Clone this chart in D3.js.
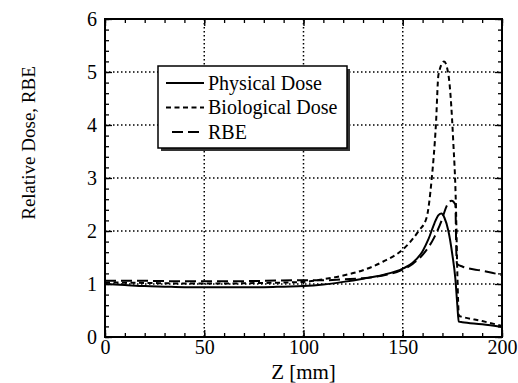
<!DOCTYPE html>
<html>
<head>
<meta charset="utf-8">
<script src="https://cdn.jsdelivr.net/npm/d3@7"></script>
<style>
  body { margin: 0; background: #fff; }
  svg text { font-family: "Liberation Serif", "Times New Roman", serif; fill: #000; }
</style>
</head>
<body>
<div id="chart"></div>
<script>
// data
var zPhys = [0, 10, 20, 30, 40, 50, 60, 70, 80, 90, 100, 110, 120, 130, 140, 150, 155, 160, 163, 166, 168, 169.5, 171, 173, 175, 176.5, 177.5, 178.2, 180, 190, 200];
var physical = [1.0, 0.98, 0.96, 0.95, 0.94, 0.94, 0.94, 0.94, 0.94, 0.95, 0.96, 0.99, 1.04, 1.10, 1.17, 1.29, 1.40, 1.62, 1.85, 2.15, 2.30, 2.33, 2.25, 2.0, 1.55, 1.1, 0.6, 0.29, 0.28, 0.24, 0.19];

var zBio = [0, 20, 40, 60, 80, 100, 110, 120, 130, 140, 150, 155, 158, 162, 164.5, 166.7, 168, 170.8, 173, 175.4, 176.8, 177.5, 178.3, 180, 190, 200];
var biological = [1.03, 1.02, 1.01, 1.01, 1.02, 1.04, 1.09, 1.16, 1.26, 1.42, 1.65, 1.85, 2.0, 2.25, 2.95, 4.0, 4.95, 5.2, 4.95, 3.72, 2.46, 1.2, 0.4, 0.38, 0.30, 0.21];

var zRbe = [0, 20, 40, 60, 80, 100, 110, 120, 130, 140, 150, 155, 160, 166, 169.6, 172, 174.6, 176.5, 177, 177.3, 180, 190, 200];
var rbe = [1.06, 1.06, 1.05, 1.05, 1.06, 1.07, 1.07, 1.09, 1.11, 1.16, 1.27, 1.38, 1.55, 1.89, 2.2, 2.46, 2.57, 2.5, 1.6, 1.38, 1.33, 1.25, 1.17];

var xTicks = [0, 50, 100, 150, 200];
var yTicks = [0, 1, 2, 3, 4, 5, 6];
var legendNames = ["Physical Dose", "Biological Dose", "RBE"];

var serif = "Liberation Serif, Times New Roman, serif";

var margin = {top: 19, right: 16, bottom: 46, left: 105},
    width = 518 - margin.left - margin.right,
    height = 383 - margin.top - margin.bottom;

var svg = d3.select("#chart")
  .append("svg")
    .attr("width", 518)
    .attr("height", 383)
  .append("g")
    .attr("transform", "translate(" + margin.left + "," + margin.top + ")");

var x = d3.scaleLinear().domain([0, 200]).range([0, width]);
var y = d3.scaleLinear().domain([0, 6]).range([height, 0]);

// dotted grid
svg.append("g").selectAll("line")
  .data(xTicks.slice(1, -1))
  .enter().append("line")
    .attr("x1", function(d) { return x(d); })
    .attr("x2", function(d) { return x(d); })
    .attr("y1", 0).attr("y2", height)
    .attr("stroke", "#000").attr("stroke-width", 1.5)
    .attr("stroke-dasharray", "1.5,2.5");

svg.append("g").selectAll("line")
  .data(yTicks.slice(1, -1))
  .enter().append("line")
    .attr("y1", function(d) { return y(d); })
    .attr("y2", function(d) { return y(d); })
    .attr("x1", 0).attr("x2", width)
    .attr("stroke", "#000").attr("stroke-width", 1.5)
    .attr("stroke-dasharray", "1.5,2.5");

// axes with inward ticks on all sides
function styleAxis(g) {
  g.attr("font-family", serif).attr("font-size", 20);
  g.select(".domain").remove();
  g.selectAll("line").attr("stroke", "#000").attr("stroke-width", 1.3);
}

var xMinor = d3.range(0, 201, 10);
var yMinor = d3.range(0, 6.01, 0.2);

svg.append("g")
    .attr("transform", "translate(0," + height + ")")
    .call(d3.axisBottom(x).tickValues(xMinor).tickSize(-4).tickFormat(""))
    .call(styleAxis);
svg.append("g")
    .attr("transform", "translate(0," + height + ")")
    .call(d3.axisBottom(x).tickValues(xTicks).tickSize(-7).tickPadding(3).tickFormat(d3.format("d")))
    .call(styleAxis);
svg.append("g")
    .call(d3.axisTop(x).tickValues(xMinor).tickSize(-4).tickFormat(""))
    .call(styleAxis);
svg.append("g")
    .call(d3.axisTop(x).tickValues(xTicks).tickSize(-7).tickFormat(""))
    .call(styleAxis);

svg.append("g")
    .call(d3.axisLeft(y).tickValues(yMinor).tickSize(-4).tickFormat(""))
    .call(styleAxis);
svg.append("g")
    .call(d3.axisLeft(y).tickValues(yTicks).tickSize(-7).tickPadding(8).tickFormat(d3.format("d")))
    .call(styleAxis);
svg.append("g")
    .attr("transform", "translate(" + width + ",0)")
    .call(d3.axisRight(y).tickValues(yMinor).tickSize(-4).tickFormat(""))
    .call(styleAxis);
svg.append("g")
    .attr("transform", "translate(" + width + ",0)")
    .call(d3.axisRight(y).tickValues(yTicks).tickSize(-7).tickFormat(""))
    .call(styleAxis);

// curves
var line = d3.line()
  .x(function(d) { return x(d[0]); })
  .y(function(d) { return y(d[1]); })
  .curve(d3.curveMonotoneX);

var series = [
  {name: legendNames[0], z: zPhys, v: physical, dash: null},
  {name: legendNames[1], z: zBio, v: biological, dash: "5,3.5"},
  {name: legendNames[2], z: zRbe, v: rbe, dash: "11,5"}
];

series.forEach(function(s) {
  svg.append("path")
    .datum(d3.zip(s.z, s.v))
    .attr("d", line)
    .attr("fill", "none")
    .attr("stroke", "#000")
    .attr("stroke-width", 2)
    .attr("stroke-dasharray", s.dash);
});

// frame
svg.append("rect")
  .attr("width", width).attr("height", height)
  .attr("fill", "none").attr("stroke", "#000").attr("stroke-width", 2);

// legend
var lg = svg.append("g").attr("transform", "translate(" + (158 - margin.left) + "," + (66 - margin.top) + ")");
lg.append("rect").attr("x", 3).attr("y", 3).attr("width", 189).attr("height", 82).attr("fill", "#333");
lg.append("rect").attr("width", 189).attr("height", 82)
  .attr("fill", "#fff").attr("stroke", "#000").attr("stroke-width", 1.5);

series.forEach(function(s, i) {
  var yy = 17 + i * 24.5;
  lg.append("line")
    .attr("x1", s.dash === "11,5" ? 14 : 8).attr("x2", 46)
    .attr("y1", yy).attr("y2", yy)
    .attr("stroke", "#000").attr("stroke-width", 2)
    .attr("stroke-dasharray", s.dash);
  lg.append("text")
    .attr("x", 50).attr("y", yy + 6.5)
    .attr("font-family", serif)
    .attr("font-size", 20)
    .text(s.name);
});

// axis titles
svg.append("text")
  .attr("x", width / 2).attr("y", height + 42)
  .attr("text-anchor", "middle")
  .attr("font-family", serif)
  .attr("font-size", 21)
  .text("Z [mm]");

svg.append("text")
  .attr("transform", "translate(" + (35 - margin.left) + "," + (143 - margin.top) + ") rotate(-90)")
  .attr("text-anchor", "middle")
  .attr("font-family", serif)
  .attr("font-size", 19)
  .text("Relative Dose, RBE");
</script>
</body>
</html>
